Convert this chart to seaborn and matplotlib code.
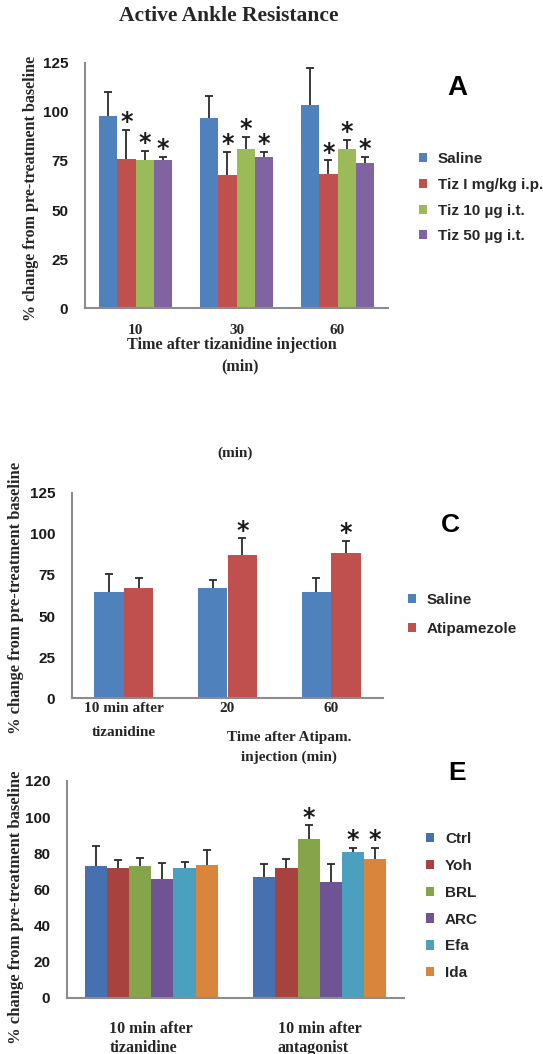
import numpy as np
import pandas as pd
import seaborn as sns
import matplotlib.pyplot as plt
from matplotlib.patches import Patch

# ---- panel A : active ankle resistance after tizanidine
a_cats = ['10', '30', '60']
a_groups = ['Saline', 'Tiz I mg/kg i.p.', 'Tiz 10 µg i.t.', 'Tiz 50 µg i.t.']
a_saline = [97.8, 96.9, 103.4]
a_tiz_ip = [76.2, 67.7, 68.2]
a_tiz_10 = [75.4, 81.3, 81.0]
a_tiz_50 = [75.4, 77.2, 74.1]
a_err_saline = [12.2, 10.9, 18.8]
a_err_tiz_ip = [14.6, 11.9, 7.1]
a_err_tiz_10 = [4.9, 6.1, 4.5]
a_err_tiz_50 = [1.8, 2.4, 3.0]
a_stars = [[0, 0, 0], [1, 1, 1], [1, 1, 1], [1, 1, 1]]

# ---- panel C : atipamezole reversal
c_cats = ['10 min after\ntizanidine', '20', '60']
c_groups = ['Saline', 'Atipamezole']
c_saline = [64.6, 67.3, 64.6]
c_atip = [67.3, 86.9, 88.1]
c_err_saline = [11.2, 4.6, 8.3]
c_err_atip = [5.6, 10.3, 7.7]
c_stars = [[0, 0, 0], [0, 1, 1]]

# ---- panel E : antagonists
e_cats = ['10 min after\ntizanidine', '10 min after\nantagonist']
e_groups = ['Ctrl', 'Yoh', 'BRL', 'ARC', 'Efa', 'Ida']
e_ctrl = [72.9, 67.0]
e_yoh = [71.6, 72.0]
e_brl = [72.9, 87.8]
e_arc = [65.7, 63.9]
e_efa = [71.6, 80.7]
e_ida = [73.5, 76.8]
e_err_ctrl = [10.9, 6.8]
e_err_yoh = [4.5, 4.6]
e_err_brl = [4.3, 7.6]
e_err_arc = [9.1, 9.9]
e_err_efa = [3.5, 2.4]
e_err_ida = [8.1, 5.9]
e_stars = [[0, 0], [0, 0], [0, 1], [0, 0], [0, 1], [0, 1]]

W, H = 543, 1054
SERIF = 'Liberation Serif'
SANS = 'Liberation Sans'


def fx(px):
    return px / W


def fy(py):
    return 1 - py / H


def panel(rect, cats, groups, means, errs, stars, colors, width, ymax, ystep,
          ytick_size=11, xtick_size=11, xpad=6, multialign='center', linesp=1.2):
    left, top, right, bottom = rect
    ax = fig.add_axes([fx(left), fy(bottom), fx(right) - fx(left), (bottom - top) / H])
    rows = []
    for g, vals in zip(groups, means):
        for c, v in zip(cats, vals):
            rows.append({'cat': c, 'grp': g, 'val': v})
    df = pd.DataFrame(rows)
    sns.barplot(data=df, x='cat', y='val', hue='grp', order=cats, hue_order=groups,
                palette=colors, width=width, gap=0, errorbar=None, saturation=1,
                linewidth=0, legend=False, ax=ax)
    bar_conts = list(ax.containers)
    for gi, cont in enumerate(bar_conts):
        for ci, bar in enumerate(cont):
            x = bar.get_x() + bar.get_width() / 2
            h = bar.get_height()
            e = errs[gi][ci]
            eb = ax.errorbar(x, h, yerr=[[0], [e]], fmt='none', ecolor='#2b2b2b',
                             elinewidth=1.3, capsize=3.2, capthick=1.3, zorder=3)
            eb[1][0].set_visible(False)  # no lower cap
            if stars[gi][ci]:
                ax.annotate('*', (x, h + e), xytext=(0, -3), textcoords='offset points',
                            ha='center', va='bottom', fontsize=17, fontweight='bold',
                            color='#1a1a1a')
    n = len(cats)
    ax.set_xlim(-0.5, n - 0.5)
    ax.set_ylim(0, ymax)
    ax.set_xticks(np.arange(n + 1) - 0.5)
    ax.set_xticklabels([''] * (n + 1))
    ax.set_xticks(np.arange(n), minor=True)
    ax.set_xticklabels(cats, minor=True, fontfamily=SERIF, fontweight='bold',
                       fontsize=xtick_size, multialignment=multialign, linespacing=linesp)
    ax.tick_params(axis='x', which='major', length=6, width=1.5, color='#8c8c8c', direction='out')
    ax.tick_params(axis='x', which='minor', length=0, pad=xpad)
    yt = np.arange(0, ymax + 1, ystep)
    ax.set_yticks(yt)
    ax.set_yticklabels([str(int(v)) for v in yt], fontfamily=SANS, fontweight='bold',
                       fontsize=ytick_size, color='#1a1a1a')
    ax.tick_params(axis='y', length=5, width=1.5, color='#8c8c8c', pad=7)
    ax.set_xlabel('')
    ax.set_ylabel('')
    for s in ['top', 'right']:
        ax.spines[s].set_visible(False)
    for s in ['left', 'bottom']:
        ax.spines[s].set_color('#8c8c8c')
        ax.spines[s].set_linewidth(1.5)
    return ax


def legend(groups, colors, x, y, spacing):
    handles = [Patch(facecolor=c, edgecolor='none') for c in colors]
    fig.legend(handles, groups, loc='upper left', bbox_to_anchor=(fx(x), fy(y)),
               frameon=False, prop={'family': SANS, 'weight': 'bold', 'size': 11},
               handlelength=0.55, handleheight=0.55, handletextpad=0.7,
               labelspacing=spacing, borderpad=0, borderaxespad=0)


sns.set_style('white')
fig = plt.figure(figsize=(W / 100, H / 100), dpi=100)

a_colors = ['#4F81BD', '#C0504D', '#9BBB59', '#8064A2']
c_colors = ['#4F81BD', '#C0504D']
e_colors = ['#4770B0', '#A8423F', '#86A44A', '#6E5494', '#4BA0C0', '#D9853B']

panel((85, 62.7, 388, 308.3), a_cats, a_groups,
      [a_saline, a_tiz_ip, a_tiz_10, a_tiz_50],
      [a_err_saline, a_err_tiz_ip, a_err_tiz_10, a_err_tiz_50],
      a_stars, a_colors, 0.72, 125, 25, xpad=11)
panel((72, 492.7, 383, 698.3), c_cats, c_groups,
      [c_saline, c_atip], [c_err_saline, c_err_atip],
      c_stars, c_colors, 0.57, 125, 25, xpad=3, linesp=2.05)
panel((67, 781, 404, 997.5), e_cats, e_groups,
      [e_ctrl, e_yoh, e_brl, e_arc, e_efa, e_ida],
      [e_err_ctrl, e_err_yoh, e_err_brl, e_err_arc, e_err_efa, e_err_ida],
      e_stars, e_colors, 0.79, 120, 20, xtick_size=11.5, xpad=17, multialign='left',
      linesp=1.25)

legend(a_groups, a_colors, 419, 152, 0.77)
legend(c_groups, c_colors, 408, 593, 0.99)
legend(e_groups, e_colors, 426, 832, 0.84)

tkw = dict(fontfamily=SERIF, fontweight='bold', ha='center', va='center')
fig.text(fx(229), fy(16), 'Active Ankle Resistance', fontsize=15.5, **tkw)
fig.text(fx(232), fy(345), 'Time after tizanidine injection', fontsize=11.7, **tkw)
fig.text(fx(240), fy(366), '(min)', fontsize=11.5, **tkw)
fig.text(fx(235), fy(453), '(min)', fontsize=11, **tkw)
fig.text(fx(289), fy(737), 'Time after Atipam.', fontsize=11, **tkw)
fig.text(fx(289), fy(757), 'injection (min)', fontsize=11, **tkw)

ykw = dict(fontfamily=SERIF, fontweight='bold', rotation=90, ha='center', va='center')
fig.text(fx(31), fy(188), '% change from pre-treatment baseline', fontsize=11.6, **ykw)
fig.text(fx(16), fy(598), '% change from pre-treatment baseline', fontsize=11.9, **ykw)
fig.text(fx(16), fy(907), '% change from pre-treatment baseline', fontsize=12, **ykw)

lkw = dict(fontfamily=SANS, fontweight='bold', ha='center', va='center', color='black')
fig.text(fx(457), fy(88), 'A', fontsize=20, **lkw)
fig.text(fx(450), fy(525), 'C', fontsize=19, **lkw)
fig.text(fx(457), fy(773), 'E', fontsize=19, **lkw)

fig.savefig('out.png', dpi=100)
